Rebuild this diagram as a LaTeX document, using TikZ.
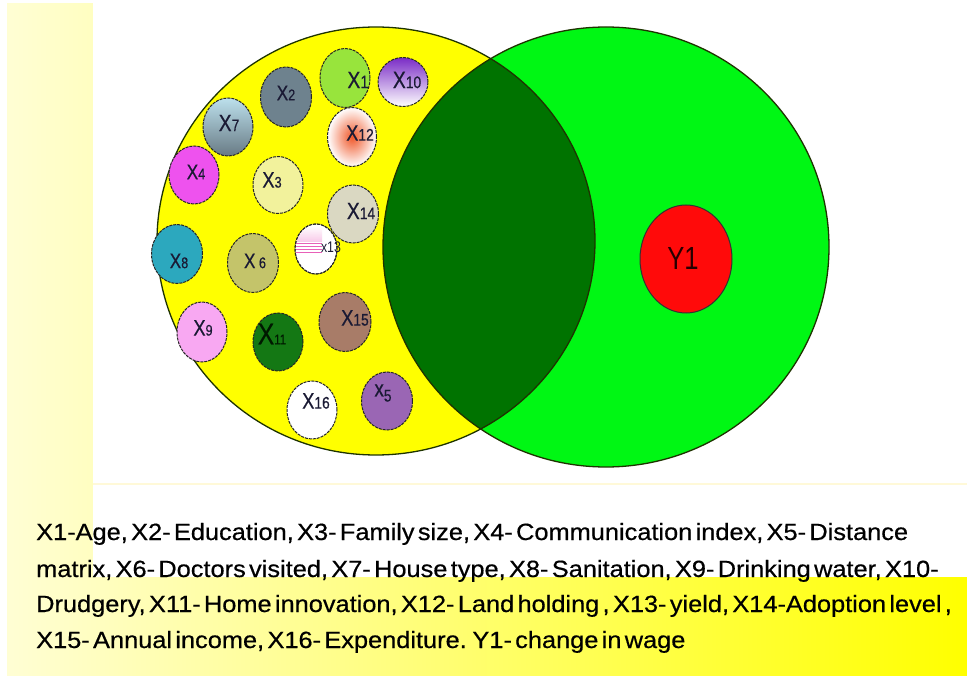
\documentclass[tikz,border=0pt]{standalone}
\usepackage{fontspec}
\setmainfont{Liberation Sans}
\newfontfamily\heavysans{Liberation Sans}[FakeBold=0.5]
\usetikzlibrary{shapes.geometric}

\definecolor{paleyel}{HTML}{FFFED4}
\definecolor{midyel}{HTML}{FFFF9A}
\definecolor{brightyel}{HTML}{FFFF00}
\definecolor{seam}{HTML}{FFF9D8}
\definecolor{setyellow}{HTML}{FFFF00}
\definecolor{setgreen}{HTML}{00F714}
\definecolor{lensgreen}{HTML}{007300}
\definecolor{rim}{HTML}{1E3300}
\definecolor{labink}{HTML}{1A1A34}
\definecolor{yred}{HTML}{FF0A0A}
\definecolor{cA}{HTML}{98E43C}
\definecolor{cBtop}{HTML}{7A2CC6}
\definecolor{cBmid}{HTML}{C9AEE8}
\definecolor{cC}{HTML}{6E828E}
\definecolor{cDtop}{HTML}{BCE0EC}
\definecolor{cDbot}{HTML}{687A84}
\definecolor{cE}{HTML}{F0582A}
\definecolor{cF}{HTML}{EE52EE}
\definecolor{cG}{HTML}{F2F29C}
\definecolor{cH}{HTML}{DAD8C2}
\definecolor{cI}{HTML}{2CA8BE}
\definecolor{cJ}{HTML}{C4C46A}
\definecolor{cK}{HTML}{F8A8F2}
\definecolor{cL}{HTML}{147814}
\definecolor{cM}{HTML}{A87C68}
\definecolor{cN}{HTML}{9A66B4}
\definecolor{pinkpale}{HTML}{F8C8E8}
\definecolor{pinkbar}{HTML}{E860B8}

% variable label: big X followed by smaller index digits
\newcommand\xl[3]{\scalebox{0.82}[1]{\heavysans\fontsize{#1}{#1}\selectfont X\fontsize{#2}{#2}\selectfont #3}}
% legend type: slightly heavy, with narrow word spaces
\newcommand\legendfont{\heavysans\fontsize{23.5}{23.5}\selectfont\spaceskip=0.13em\relax}
\newsavebox\legendbox
\newlength\legendwd

\begin{document}
% common horizontal scale of the legend lines, taken from the first line
\sbox\legendbox{\legendfont X1-Age, X2- Education, X3- Family size, X4- Communication index, X5- Distance}%
\setlength\legendwd{\wd\legendbox}%
\pgfmathsetmacro\legendscale{872/\legendwd}%
\begin{tikzpicture}[x=1pt, y=-1pt,
  bub/.style={ellipse, draw=black!85, line width=1pt, dash pattern=on 3pt off 1pt, inner sep=0pt, outer sep=0pt},
  lab/.style={inner sep=0pt, text=labink},
  bigline/.style={draw=rim, line width=1.3pt},
  legline/.style={anchor=base west, inner sep=0pt, text=black}]

\useasboundingbox (0,0) rectangle (967,676);

% slide background and the two white panels
\fill[white] (0,0) rectangle (967,676);
\shade[left color=paleyel, middle color=midyel, right color=brightyel] (7,4) rectangle (967,676);
\fill[white] (93,0) rectangle (967,577);
\draw[seam, line width=1.2pt] (93,484) -- (967,484);

% the two overlapping sets
\fill[setyellow] (376,241) ellipse [x radius=219pt, y radius=214pt];
\fill[setgreen] (606,247) ellipse [x radius=223pt, y radius=220pt];
\begin{scope}
  \clip (376,241) ellipse [x radius=219pt, y radius=214pt];
  \fill[lensgreen] (606,247) ellipse [x radius=223pt, y radius=220pt];
\end{scope}
\draw[bigline] (376,241) ellipse [x radius=219pt, y radius=214pt];
\draw[bigline] (606,247) ellipse [x radius=223pt, y radius=220pt];

% explanatory variables
\node[bub, fill=cA, minimum width=50pt, minimum height=59pt] (x1) at (345,78) {};
\node[bub, top color=cBtop, middle color=cBmid, bottom color=white, minimum width=50pt, minimum height=49pt] (x10) at (403,82) {};
\node[bub, fill=cC, minimum width=51pt, minimum height=60pt] (x2) at (286,97) {};
\node[bub, top color=cDtop, bottom color=cDbot, minimum width=50pt, minimum height=58pt] (x7) at (228,127) {};
\node[bub, inner color=cE, outer color=white, minimum width=49pt, minimum height=59pt] (x12) at (352,137) {};
\node[bub, fill=cF, minimum width=50pt, minimum height=58pt] (x4) at (194,175) {};
\node[bub, fill=cG, minimum width=50pt, minimum height=57pt] (x3) at (278,185) {};
\node[bub, fill=cH, minimum width=51pt, minimum height=58pt] (x14) at (353,214) {};
\node[bub, fill=cI, minimum width=51pt, minimum height=59pt] (x8) at (177,254) {};
\node[bub, fill=cJ, minimum width=51pt, minimum height=59pt] (x6) at (253,263) {};
\node[bub, fill=white, minimum width=42pt, minimum height=50pt] (x13) at (316,249) {};
\node[bub, fill=cK, minimum width=50pt, minimum height=60pt] (x9) at (202,332) {};
\node[bub, fill=cL, minimum width=50pt, minimum height=58pt] (x11) at (278,342) {};
\node[bub, fill=cM, minimum width=52pt, minimum height=59pt] (x15) at (345,322) {};
\node[bub, fill=white, minimum width=50pt, minimum height=58pt] (x16) at (312,410) {};
\node[bub, fill=cN, minimum width=51pt, minimum height=58pt] (x5) at (387,401) {};

% striped fill of the X13 bubble
\begin{scope}
  \clip (x13.center) ellipse [x radius=20.5pt, y radius=24.5pt];
  \shade[top color=white, bottom color=pinkpale] (295,226) rectangle (322,242);
  \foreach \yy in {243.5,246.5,249.5,252.5}
    \draw[pinkbar, line width=1.5pt] (296,\yy) -- (322,\yy);
\end{scope}
\draw[black!85, line width=1pt, dash pattern=on 3pt off 1pt] (x13.center) ellipse [x radius=21pt, y radius=25pt];

% labels of the variables
\node[lab] (x1t) at (358,80) {\xl{23.7}{18}{1}};
\node[lab] (x10t) at (407,80) {\xl{23.7}{16.8}{10}};
\node[lab] (x2t) at (286,93) {\xl{21}{15.4}{2}};
\node[lab] (x7t) at (229,123) {\xl{23.7}{16.8}{7}};
\node[lab] (x12t) at (360,133) {\xl{22.3}{16.8}{12}};
\node[lab] (x4t) at (196,172) {\xl{21}{15.4}{4}};
\node[lab] (x3t) at (272,180) {\xl{22.3}{15.4}{3}};
\node[lab] (x14t) at (361,211) {\xl{23.7}{16.8}{14}};
\node[lab] (x8t) at (179,261) {\xl{21}{15.4}{8}};
\node[lab] (x6t) at (255,261) {\xl{21}{15.4}{\ 6}};
\node[lab] (x13t) at (331,247) {\scalebox{0.8}[1]{\fontsize{15.4}{15.4}\selectfont x13}};
\node[lab] (x9t) at (203,328) {\xl{22.3}{15.4}{9}};
\node[lab, text=black!90!green] (x11t) at (272,334) {\xl{30}{14}{11}};
\node[lab] (x15t) at (355,318) {\xl{22.3}{16.8}{15}};
\node[lab] (x16t) at (316,401) {\xl{22.3}{16.8}{16}};
\node[lab] (x5t) at (383,393) {\scalebox{0.82}[1]{\heavysans\fontsize{23}{23}\selectfont x\fontsize{16.8}{16.8}\selectfont\raisebox{-5pt}{5}}};

% dependent variable
\node[ellipse, fill=yred, draw=black!80, line width=1pt, inner sep=0pt, minimum width=92pt, minimum height=108pt] (y1) at (686,259) {};
\node[lab, text=black!85!red] (y1t) at (683,258) {\scalebox{0.8}[1]{\fontsize{32}{32}\selectfont Y1}};

% legend
\node[legline] (leg1) at (36,540) {\scalebox{\legendscale}[1]{\legendfont X1-Age, X2- Education, X3- Family size, X4- Communication index, X5- Distance}};
\node[legline] (leg2) at (36,577) {\scalebox{\legendscale}[1]{\legendfont matrix, X6- Doctors visited, X7- House type, X8- Sanitation, X9- Drinking water, X10-}};
\node[legline] (leg3) at (36,612) {\scalebox{\legendscale}[1]{\legendfont Drudgery, X11- Home innovation, X12- Land holding , X13- yield, X14-Adoption level ,}};
\node[legline] (leg4) at (36,648) {\scalebox{\legendscale}[1]{\legendfont X15- Annual income, X16- Expenditure. Y1- change in wage}};

\end{tikzpicture}
\end{document}
